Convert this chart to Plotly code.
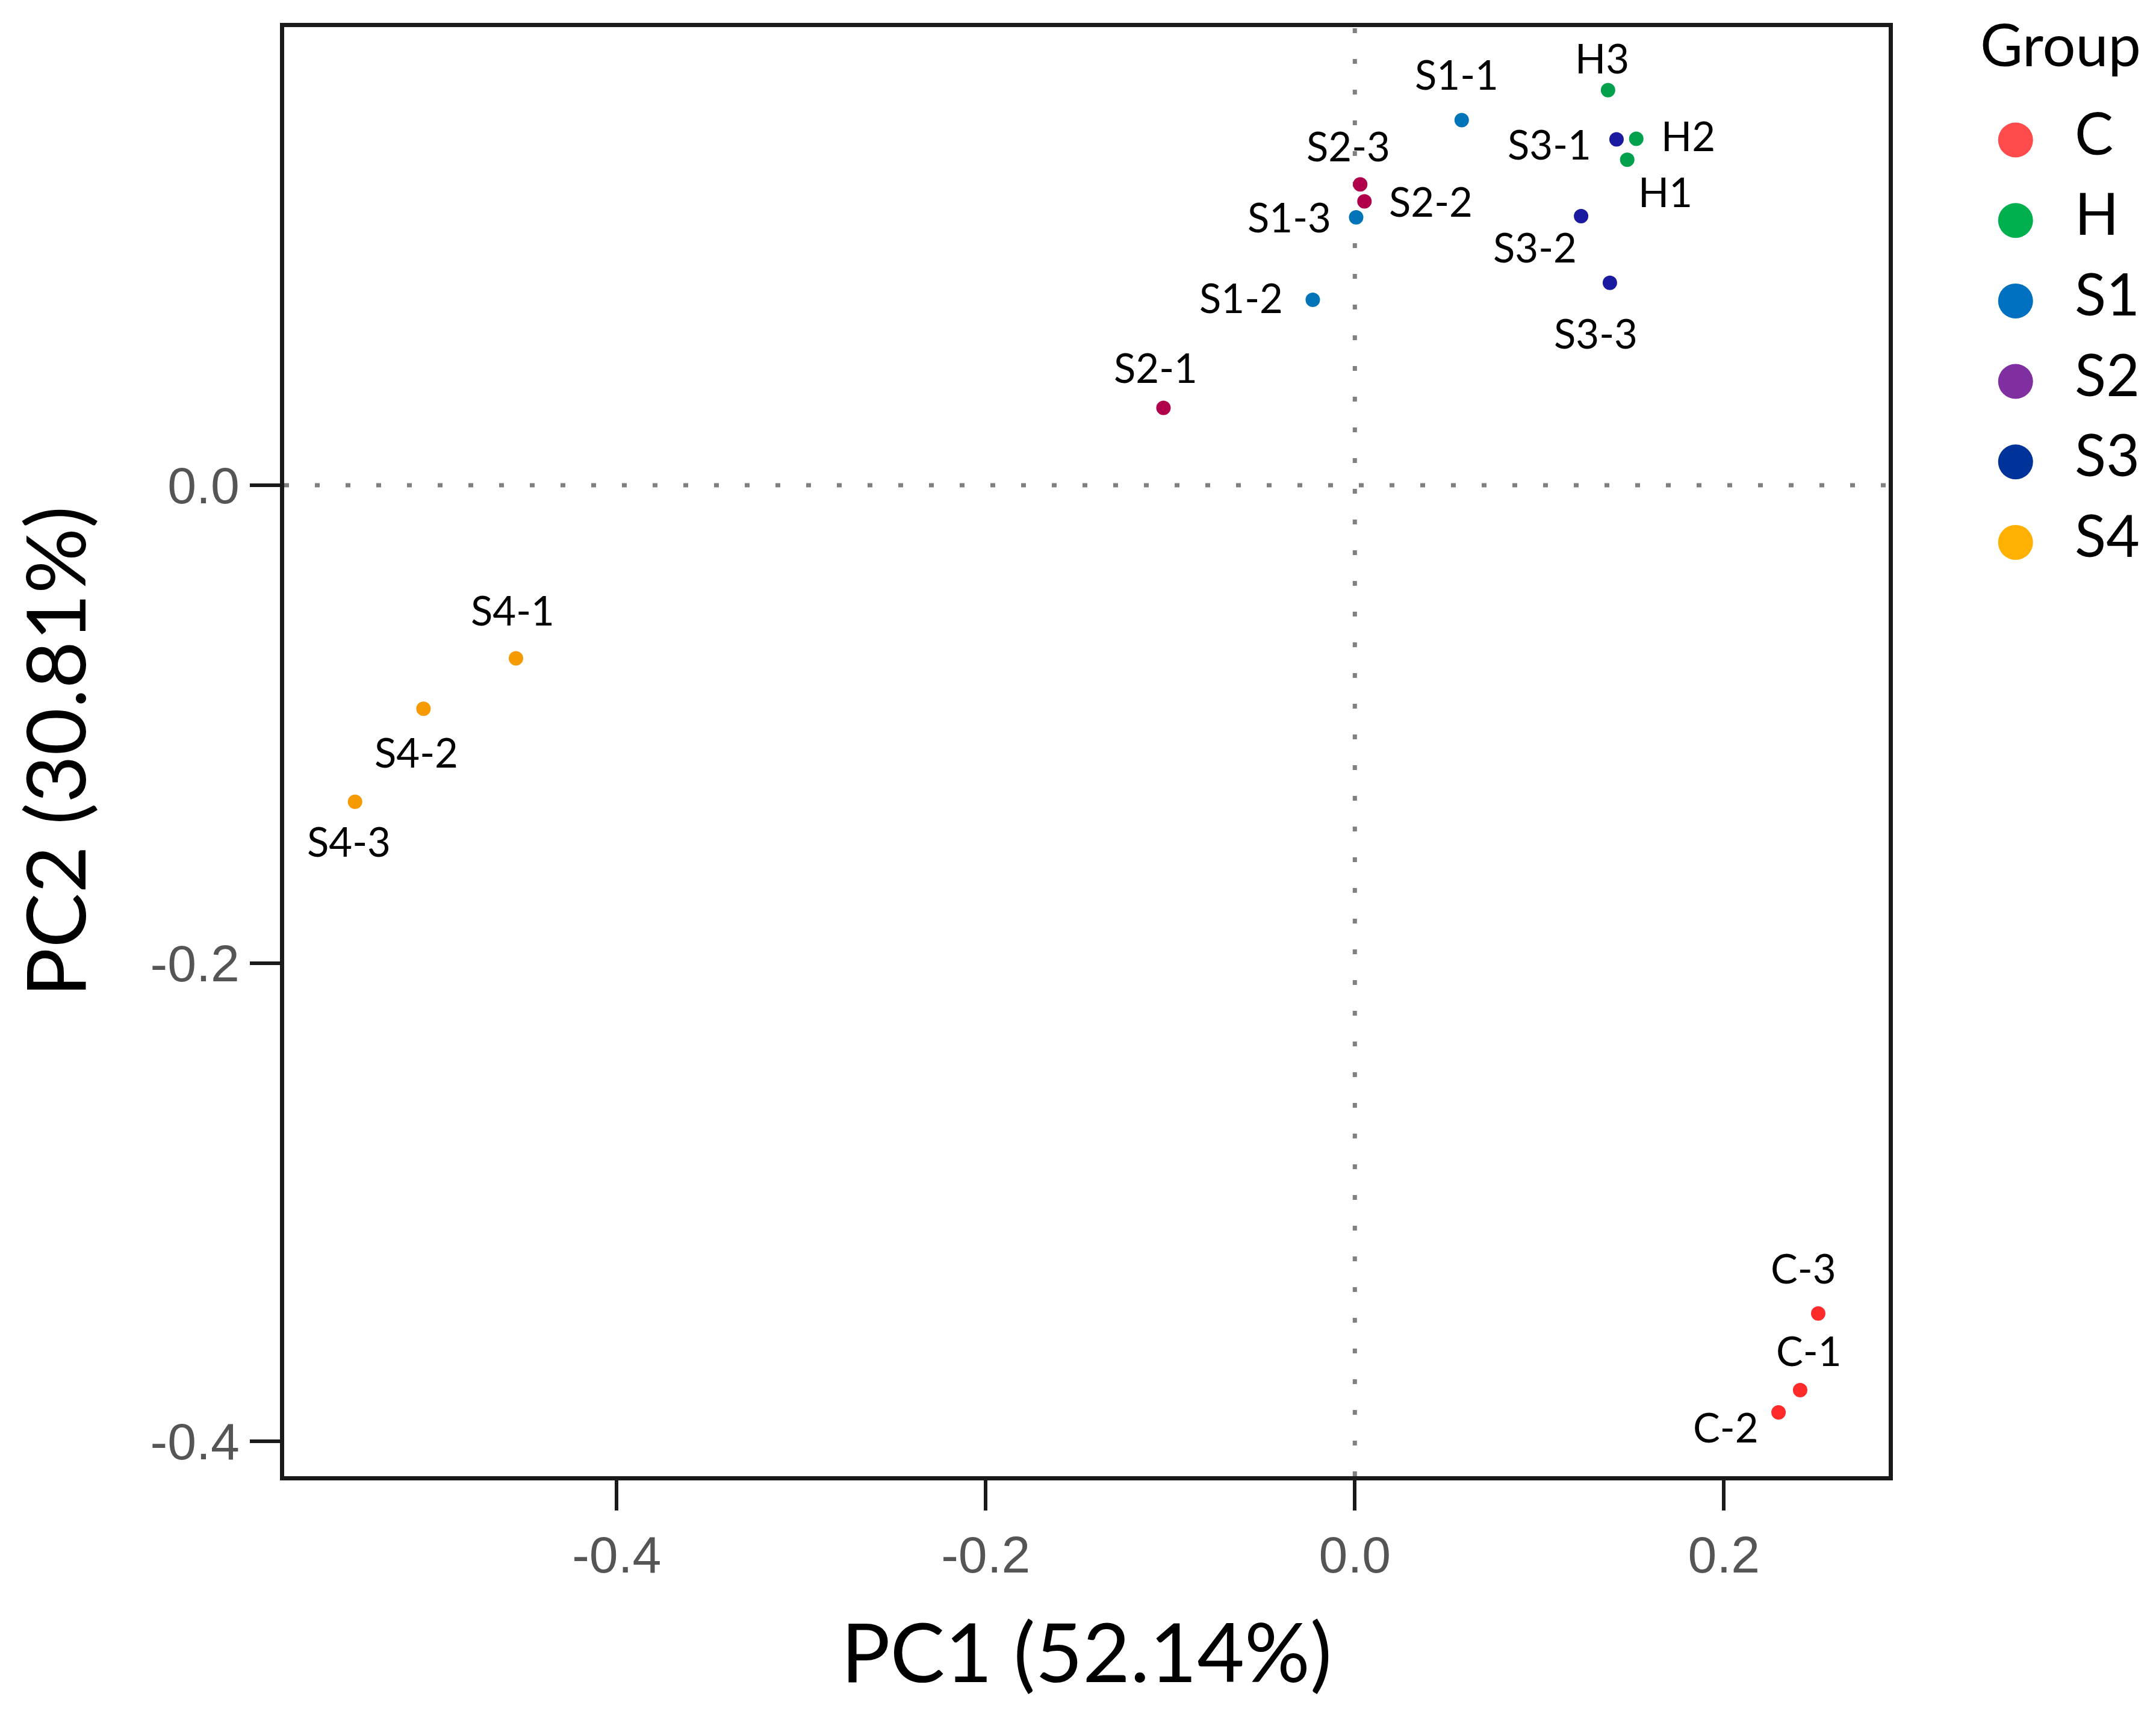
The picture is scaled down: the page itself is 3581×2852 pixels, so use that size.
import plotly.graph_objects as go

# PCA scores
samples = ["C-1", "C-2", "C-3", "H1", "H2", "H3",
           "S1-1", "S1-2", "S1-3", "S2-1", "S2-2", "S2-3",
           "S3-1", "S3-2", "S3-3", "S4-1", "S4-2", "S4-3"]
groups = ["C", "C", "C", "H", "H", "H",
          "S1", "S1", "S1", "S2", "S2", "S2",
          "S3", "S3", "S3", "S4", "S4", "S4"]
pc1 = [0.2413, 0.2296, 0.2511, 0.1476, 0.1525, 0.1372,
       0.0579, -0.0228, 0.0007, -0.1037, 0.0052, 0.0029,
       0.1418, 0.1226, 0.1382, -0.4546, -0.5047, -0.5418]
pc2 = [-0.3786, -0.3879, -0.3465, 0.1362, 0.1450, 0.1653,
       0.1528, 0.0776, 0.1121, 0.0324, 0.1188, 0.1259,
       0.1447, 0.1126, 0.0847, -0.0724, -0.0935, -0.1324]

group_order = ["C", "H", "S1", "S2", "S3", "S4"]
x_ticks = [-0.4, -0.2, 0.0, 0.2]
y_ticks = [-0.4, -0.2, 0.0]

# styling
point_colors = {"C": "#FF2A2A", "H": "#00A04C", "S1": "#0074B8",
                "S2": "#B0004C", "S3": "#1A1AA0", "S4": "#F59A00"}
legend_colors = {"C": "#FF4B4B", "H": "#00B04F", "S1": "#0070C0",
                 "S2": "#7F2FA0", "S3": "#003399", "S4": "#FFB000"}
# label offsets from each point, in pixels (dx right, dy down)
label_offsets = {"C-1": (15, -66), "C-2": (-88, 24), "C-3": (-24, -76),
                 "H1": (63, 53), "H2": (86, -5), "H3": (-10, -54),
                 "S1-1": (-8, -76), "S1-2": (-119, -4), "S1-3": (-111, -1),
                 "S2-1": (-13, -67), "S2-2": (110, 0), "S2-3": (-20, -64),
                 "S3-1": (-111, 7), "S3-2": (-77, 51), "S3-3": (-23, 83),
                 "S4-1": (-5, -80), "S4-2": (-12, 72), "S4-3": (-10, 65)}

W, H = 3581, 2852
LABEL_FONT = "Lato"
TICK_FONT = "Liberation Sans"

fig = go.Figure()

for g in group_order:
    idx = [i for i, gg in enumerate(groups) if gg == g]
    fig.add_trace(go.Scatter(
        x=[pc1[i] for i in idx], y=[pc2[i] for i in idx],
        mode="markers", showlegend=False, name=g,
        marker=dict(size=24, color=point_colors[g]),
    ))

for s, x, y in zip(samples, pc1, pc2):
    dx, dy = label_offsets[s]
    fig.add_annotation(x=x, y=y, xref="x", yref="y", text=s, showarrow=False,
                       xshift=dx, yshift=-dy,
                       font=dict(family=LABEL_FONT, size=67, color="#000000"))

# legend drawn as a small side panel
fig.add_trace(go.Scatter(
    x=[0] * len(group_order), y=list(range(len(group_order))),
    mode="markers", showlegend=False, xaxis="x2", yaxis="y2",
    marker=dict(size=58, color=[legend_colors[g] for g in group_order]),
))
fig.add_trace(go.Scatter(
    x=[1] * len(group_order), y=list(range(len(group_order))),
    mode="text", text=group_order, textposition="middle right",
    showlegend=False, xaxis="x2", yaxis="y2",
    textfont=dict(family=LABEL_FONT, size=96, color="#000000"),
))
fig.add_annotation(x=-0.62, y=-1.2, xref="x2", yref="y2", text="Group",
                   showarrow=False, xanchor="left",
                   font=dict(family=LABEL_FONT, size=97, color="#000000"))

# dotted zero lines
dot = dict(color="#808080", width=7, dash="8px,43px")
fig.add_shape(type="line", xref="x", yref="paper", x0=0, x1=0, y0=0, y1=1,
              line=dot, layer="below")
fig.add_shape(type="line", xref="x domain", yref="y", x0=0, x1=1, y0=0, y1=0,
              line=dot, layer="below")

axis_common = dict(showgrid=False, zeroline=False, showline=True, mirror=True,
                   linecolor="#1a1a1a", linewidth=7, ticks="outside",
                   ticklen=50, tickwidth=6, tickcolor="#1a1a1a",
                   tickfont=dict(family=TICK_FONT, size=86, color="#555555"))

fig.update_layout(
    width=W, height=H,
    margin=dict(l=464, r=0, t=37, b=408),
    plot_bgcolor="white", paper_bgcolor="white",
    xaxis=dict(axis_common, domain=[0, 0.8551], range=[-0.5802, 0.2894],
               tickvals=x_ticks, ticktext=[f"{v:.1f}" for v in x_ticks],
               title=dict(text="PC1 (52.14%)", standoff=72,
                          font=dict(family=LABEL_FONT, size=136, color="#000000"))),
    yaxis=dict(axis_common, range=[-0.4146, 0.1917],
               tickvals=y_ticks, ticktext=[f"{v:.1f}" for v in y_ticks],
               title=dict(text="PC2 (30.81%)", standoff=72,
                          font=dict(family=LABEL_FONT, size=136, color="#000000"))),
    xaxis2=dict(domain=[0.8787, 1.0], range=[-1.392, 2.454], visible=False,
                fixedrange=True),
    yaxis2=dict(domain=[0, 1], range=[16.604, -1.403], visible=False,
                anchor="x2", fixedrange=True),
)

fig.write_html("out.html")
